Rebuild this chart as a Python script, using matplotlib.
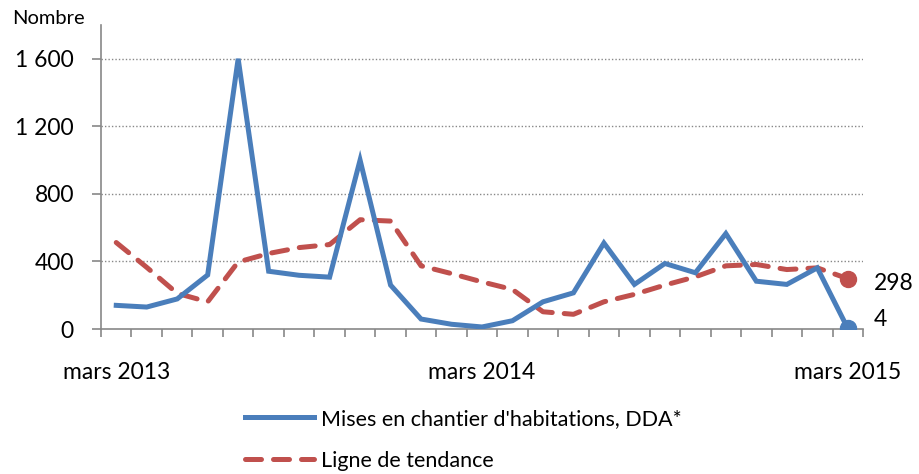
import matplotlib
matplotlib.use("Agg")
import matplotlib.pyplot as plt
import numpy as np

plt.rcParams['font.family'] = ['Lato', 'DejaVu Sans']

months = ["mars 2013", "avr. 2013", "mai 2013", "juin 2013", "juil. 2013", "août 2013",
          "sept. 2013", "oct. 2013", "nov. 2013", "déc. 2013", "janv. 2014", "févr. 2014",
          "mars 2014", "avr. 2014", "mai 2014", "juin 2014", "juil. 2014", "août 2014",
          "sept. 2014", "oct. 2014", "nov. 2014", "déc. 2014", "janv. 2015", "févr. 2015",
          "mars 2015"]
mises = [140, 130, 178, 320, 1600, 342, 318, 307, 1000, 260, 59, 28, 12, 49, 161, 214,
         509, 264, 388, 333, 565, 283, 264, 362, 4]
tendance = [512, 365, 211, 161, 397, 447, 482, 500, 647, 639, 374, 328, 279, 234, 102, 87,
            161, 205, 260, 309, 374, 382, 352, 362, 298]
shown_labels = {0: "mars 2013", 12: "mars 2014", 24: "mars 2015"}
yticks = [0, 400, 800, 1200, 1600]
ytick_labels = ["0", "400", "800", "1\u00a0200", "1\u00a0600"]

blue = "#4A7EBB"
red = "#C0504D"

fig = plt.figure(figsize=(9.2, 4.74), dpi=100)
ax = fig.add_axes([101/920, 1-329/474, (863-101)/920, (329-25)/474])

x = np.arange(len(months))
ax.plot(x, mises, color=blue, lw=3.6, solid_joinstyle='miter',
        label="Mises en chantier d'habitations, DDA*", zorder=3)
ax.plot(x, tendance, color=red, lw=3.6, ls=(0, (3.2, 2.4)), dash_capstyle='round',
        label="Ligne de tendance", zorder=2)
ax.plot(x[-1], mises[-1], 'o', color=blue, ms=11.5, zorder=4)
ax.plot(x[-1], tendance[-1], 'o', color=red, ms=11.5, zorder=4)

ax.annotate(f"{tendance[-1]}", (x[-1], tendance[-1]), xytext=(19, -3.5), textcoords='offset points',
            fontsize=16.5, va='center', ha='left')
ax.annotate(f"{mises[-1]}", (x[-1], mises[-1]), xytext=(19, 6), textcoords='offset points',
            fontsize=16.5, va='center', ha='left')

ax.set_xlim(-0.5, len(months) - 0.5)
ax.set_ylim(0, 1800)
ax.set_yticks(yticks)
ax.set_yticklabels(ytick_labels, fontsize=16.5)
ax.tick_params(axis='y', length=6.5, width=1.2, color='#888888', pad=13)
for yv in yticks[1:]:
    ax.axhline(yv, color='#888888', lw=1.0, ls=(0, (1, 1.5)), zorder=1)

ax.set_xticks(list(shown_labels.keys()))
ax.set_xticklabels(list(shown_labels.values()), fontsize=16.5)
ax.tick_params(axis='x', length=0, pad=24)
ax.set_xticks(np.arange(-0.5, len(months)), minor=True)
ax.tick_params(axis='x', which='minor', length=6, color='#888888', width=1.2, direction='out')

for s in ['top', 'right']:
    ax.spines[s].set_visible(False)
for s in ['left', 'bottom']:
    ax.spines[s].set_color('#888888')
    ax.spines[s].set_linewidth(1.2)

fig.text(12/920, 1-18/474, "Nombre", fontsize=14.5, va='center', ha='left')

leg = fig.legend(loc='upper left', bbox_to_anchor=(245/920, 1-409/474), frameon=False,
                 fontsize=15.5, handlelength=3.2, handletextpad=0.35, labelspacing=1.0,
                 borderpad=0, borderaxespad=0)

fig.savefig("out.png", dpi=100)
